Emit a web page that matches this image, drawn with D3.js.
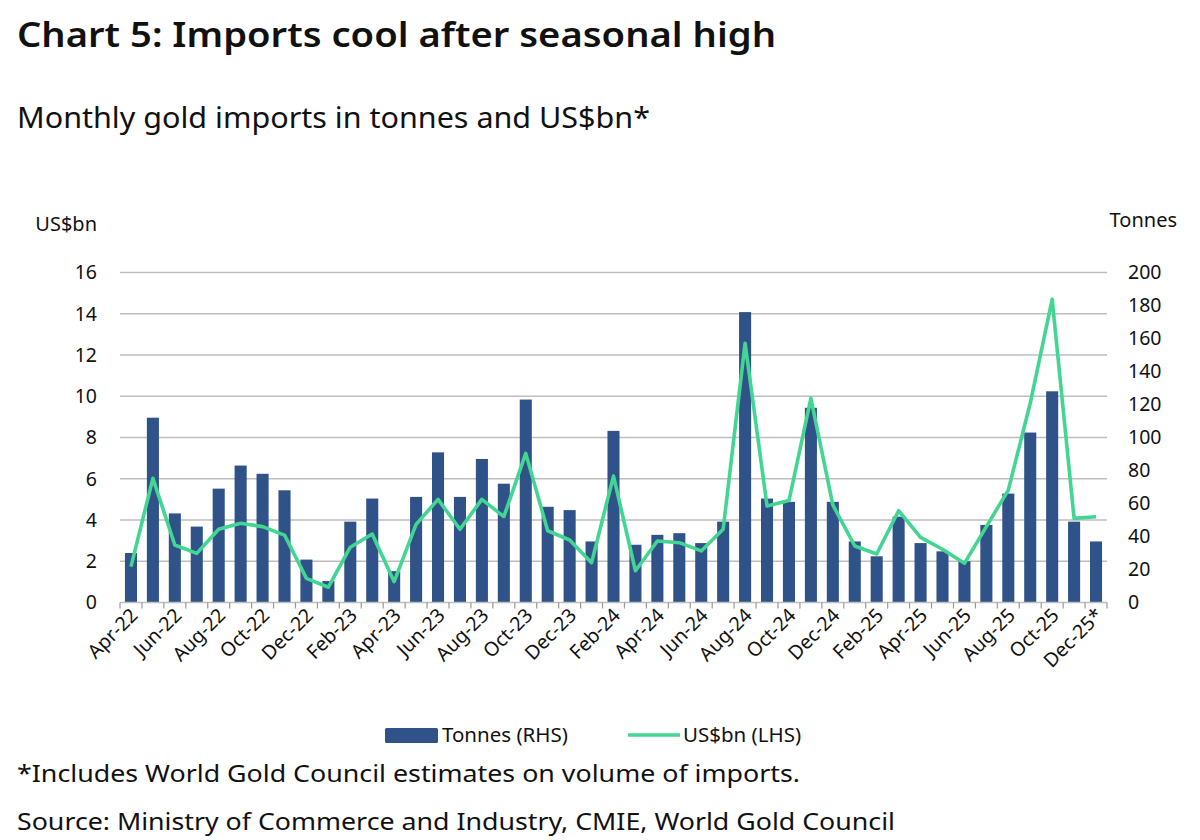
<!DOCTYPE html>
<html>
<head>
<meta charset="utf-8">
<script src="https://cdn.jsdelivr.net/npm/d3@7"></script>
<style>
  html, body { margin: 0; padding: 0; background: #fff; }
  svg { display: block; }
  text { font-family: "Noto Sans", "Open Sans", sans-serif; fill: #111; }
</style>
</head>
<body>
<svg id="chart" width="1200" height="840"></svg>
<script>
const months = ["Apr-22","May-22","Jun-22","Jul-22","Aug-22","Sep-22","Oct-22","Nov-22","Dec-22","Jan-23","Feb-23","Mar-23",
  "Apr-23","May-23","Jun-23","Jul-23","Aug-23","Sep-23","Oct-23","Nov-23","Dec-23","Jan-24","Feb-24","Mar-24",
  "Apr-24","May-24","Jun-24","Jul-24","Aug-24","Sep-24","Oct-24","Nov-24","Dec-24","Jan-25","Feb-25","Mar-25",
  "Apr-25","May-25","Jun-25","Jul-25","Aug-25","Sep-25","Oct-25","Nov-25","Dec-25*"];
const tonnes = [30, 112, 54, 46, 69, 83, 78, 68, 26, 13, 49, 63,
  19, 64, 91, 64, 87, 72, 123, 58, 56, 37, 104, 35,
  41, 42, 36, 49, 176, 63, 61, 118, 61, 37, 28, 52,
  36, 31, 25, 47, 66, 103, 128, 49, 37];
const usdbn = [1.74, 6.02, 2.79, 2.38, 3.55, 3.84, 3.68, 3.27, 1.17, 0.74, 2.68, 3.32,
  1.01, 3.79, 5.0, 3.55, 5.0, 4.16, 7.23, 3.48, 3.03, 1.93, 6.13, 1.54,
  2.98, 2.9, 2.5, 3.55, 12.57, 4.68, 4.94, 9.9, 4.73, 2.74, 2.35, 4.45,
  3.16, 2.58, 1.9, 3.68, 5.45, 9.66, 14.7, 4.08, 4.16];
const leftTicks = [0, 2, 4, 6, 8, 10, 12, 14, 16];
const rightTicks = [0, 20, 40, 60, 80, 100, 120, 140, 160, 180, 200];

const title = "Chart 5: Imports cool after seasonal high";
const subtitle = "Monthly gold imports in tonnes and US$bn*";
const footnote = "*Includes World Gold Council estimates on volume of imports.";
const source = "Source: Ministry of Commerce and Industry, CMIE, World Gold Council";

const BAR = "#2F5289", LINE = "#43D592", GRID = "#BEBEBE";

const svg = d3.select("#chart");
const pLeft = 120, pRight = 1107, pTop = 272.5, pBottom = 602.5;

const x = d3.scaleBand().domain(months).range([pLeft, pRight]).paddingInner(0.45).paddingOuter(0.225);
const xb = d3.scaleBand().domain(months).range([pLeft, pRight]);
const yL = d3.scaleLinear().domain([0, 16]).range([pBottom, pTop]);
const yR = d3.scaleLinear().domain([0, 200]).range([pBottom, pTop]);

// Titles
svg.append("text").attr("x", 17).attr("y", 47).attr("font-size", 35).attr("font-weight", 600)
  .attr("textLength", 759).attr("lengthAdjust", "spacingAndGlyphs").text(title);
svg.append("text").attr("x", 17).attr("y", 128).attr("font-size", 29)
  .attr("textLength", 633).attr("lengthAdjust", "spacingAndGlyphs").text(subtitle);

// Axis titles
svg.append("text").attr("x", 97).attr("y", 231).attr("font-size", 20).attr("text-anchor", "end").text("US$bn");
svg.append("text").attr("x", 1177).attr("y", 227).attr("font-size", 20).attr("text-anchor", "end").text("Tonnes");

// Gridlines
svg.append("g").selectAll("line").data(leftTicks.slice(1)).join("line")
  .attr("x1", pLeft).attr("x2", pRight)
  .attr("y1", d => yL(d)).attr("y2", d => yL(d))
  .attr("stroke", GRID).attr("stroke-width", 1.6);

// Left axis labels
const gl = svg.append("g").attr("transform", `translate(${pLeft},0)`)
  .call(d3.axisLeft(yL).tickValues(leftTicks).tickSize(0).tickPadding(23));
gl.select(".domain").remove();
gl.selectAll("text").attr("font-size", 19.5).attr("font-family", "Noto Sans, Open Sans, sans-serif").attr("fill", "#111");

// Right axis labels
const gr = svg.append("g").attr("transform", `translate(${pRight},0)`)
  .call(d3.axisRight(yR).tickValues(rightTicks).tickSize(0).tickPadding(21));
gr.select(".domain").remove();
gr.selectAll("text").attr("font-size", 19.5).attr("font-family", "Noto Sans, Open Sans, sans-serif").attr("fill", "#111");

// Bars
svg.append("g").selectAll("rect").data(months).join("rect")
  .attr("x", d => x(d)).attr("width", x.bandwidth())
  .attr("y", (d, i) => yR(tonnes[i])).attr("height", (d, i) => pBottom - yR(tonnes[i]))
  .attr("fill", BAR);

// Bottom axis
svg.append("line").attr("x1", pLeft).attr("x2", pRight).attr("y1", pBottom).attr("y2", pBottom)
  .attr("stroke", GRID).attr("stroke-width", 1.6);
const tickPos = months.map(m => xb(m)).concat([pRight]);
svg.append("g").selectAll("line").data(tickPos).join("line")
  .attr("x1", d => d).attr("x2", d => d).attr("y1", pBottom).attr("y2", pBottom + 6)
  .attr("stroke", "#999").attr("stroke-width", 1.2);

// X labels
svg.append("g").selectAll("text").data(months.filter((d, i) => i % 2 === 0)).join("text")
  .attr("font-size", 19.5).attr("text-anchor", "end")
  .attr("transform", d => `translate(${xb(d) + xb.bandwidth() / 2 + 8},${pBottom + 14}) rotate(-45)`)
  .text(d => d);

// Line
const line = d3.line().x((d, i) => xb(months[i]) + xb.bandwidth() / 2).y(d => yL(d));
svg.append("path").datum(usdbn).attr("d", line).attr("fill", "none")
  .attr("stroke", LINE).attr("stroke-width", 3.6).attr("stroke-linejoin", "round");

// Legend
svg.append("rect").attr("x", 385).attr("y", 728).attr("width", 53).attr("height", 15).attr("fill", BAR).attr("rx", 1.5);
svg.append("text").attr("x", 442).attr("y", 742).attr("font-size", 20.5).text("Tonnes (RHS)");
svg.append("line").attr("x1", 628).attr("x2", 680).attr("y1", 735).attr("y2", 735).attr("stroke", LINE).attr("stroke-width", 3.6);
svg.append("text").attr("x", 683).attr("y", 742).attr("font-size", 20.5).text("US$bn (LHS)");

// Footnotes
svg.append("text").attr("x", 17).attr("y", 782).attr("font-size", 24)
  .attr("textLength", 783).attr("lengthAdjust", "spacingAndGlyphs").text(footnote);
svg.append("text").attr("x", 17).attr("y", 830).attr("font-size", 24)
  .attr("textLength", 878).attr("lengthAdjust", "spacingAndGlyphs").text(source);
</script>
</body>
</html>
